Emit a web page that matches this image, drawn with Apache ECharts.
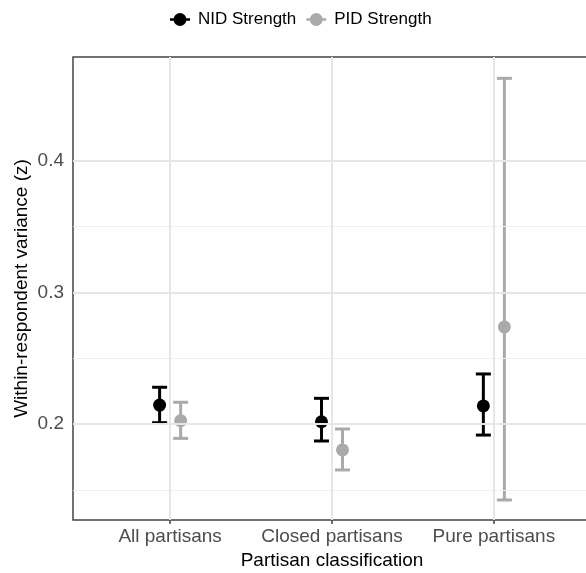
<!DOCTYPE html>
<html><head><meta charset="utf-8">
<script src="https://cdn.jsdelivr.net/npm/echarts@6/dist/echarts.min.js"></script>
<style>html,body{margin:0;padding:0;background:#fff}#c{width:586px;height:573px}</style>
</head><body><div id="c"></div>
<script>
const categories = ['All partisans', 'Closed partisans', 'Pure partisans'];
const nidMean = [0.2144, 0.2017, 0.2137];
const nidLow  = [0.2010, 0.1871, 0.1916];
const nidHigh = [0.2279, 0.2195, 0.2380];
const pidMean = [0.2025, 0.1803, 0.2737];
const pidLow  = [0.1891, 0.1651, 0.1423];
const pidHigh = [0.2165, 0.1962, 0.4625];
const yTicks = [0.2, 0.3, 0.4];
const yMinor = [0.15, 0.25, 0.35];

const DODGE = 0.065;
const BLACK = '#000000', GREY = '#aaaaaa';
const FONT = 'Liberation Sans, Arial, sans-serif';

function errData(low, high, off) {
  return categories.map((c, i) => [i + off, low[i], high[i]]);
}
function ptData(mean, off) {
  return categories.map((c, i) => [i + off, mean[i]]);
}
function errRender(color) {
  return function (params, api) {
    const x = api.value(0);
    const p1 = api.coord([x, api.value(1)]);
    const p2 = api.coord([x, api.value(2)]);
    const hw = 7.5;
    const st = { stroke: color, lineWidth: 3 };
    return { type: 'group', children: [
      { type: 'line', shape: { x1: p1[0], y1: p1[1], x2: p2[0], y2: p2[1] }, style: st },
      { type: 'line', shape: { x1: p1[0] - hw, y1: p1[1], x2: p1[0] + hw, y2: p1[1] }, style: st },
      { type: 'line', shape: { x1: p2[0] - hw, y1: p2[1], x2: p2[0] + hw, y2: p2[1] }, style: st }
    ]};
  };
}

const gridLines = [];
yMinor.forEach(v => gridLines.push({ yAxis: v, lineStyle: { color: '#f0f0f0', width: 1.2, type: 'solid' } }));
yTicks.forEach(v => gridLines.push({ yAxis: v, lineStyle: { color: '#e6e6e6', width: 2, type: 'solid' } }));
categories.forEach((c, i) => gridLines.push({ xAxis: i, lineStyle: { color: '#e6e6e6', width: 2, type: 'solid' } }));

const legendIcon = 'path://M0,5.25 H20 V7.75 H0 Z M16.5,6.5 A6.5,6.5 0 1 1 3.5,6.5 A6.5,6.5 0 1 1 16.5,6.5 Z';

const chart = echarts.init(document.getElementById('c'), null, { renderer: 'canvas' });
chart.setOption({
  animation: false,
  backgroundColor: '#ffffff',
  textStyle: { fontFamily: FONT },
  legend: {
    top: 6, left: 165, itemGap: 10, itemWidth: 20, itemHeight: 13,
    textStyle: { fontSize: 17, color: '#000', fontFamily: FONT, padding: [0, 0, 0, 3] },
    data: [
      { name: 'NID Strength', icon: legendIcon, itemStyle: { color: BLACK } },
      { name: 'PID Strength', icon: legendIcon, itemStyle: { color: GREY } }
    ]
  },
  grid: { left: 73, top: 57, width: 518, height: 463, outerBoundsMode: 'none', containLabel: false,
          show: true, borderColor: '#444', borderWidth: 1.5, backgroundColor: 'transparent' },
  xAxis: {
    type: 'value', min: -0.6, max: 2.6,
    name: 'Partisan classification', nameLocation: 'middle', nameGap: 31, nameMoveOverlap: false,
    nameTextStyle: { fontSize: 19, color: '#000', fontFamily: FONT },
    axisLine: { show: false },
    axisTick: { show: true, customValues: [0, 1, 2], length: 4, lineStyle: { color: '#444', width: 1.5 } },
    axisLabel: { customValues: [0, 1, 2], formatter: v => categories[Math.round(v)] || '', fontSize: 19, color: '#4d4d4d', margin: 7, fontFamily: FONT },
    splitLine: { show: false }
  },
  yAxis: {
    type: 'value', min: 0.1271, max: 0.4787,
    name: 'Within-respondent variance (z)', nameLocation: 'middle', nameGap: 42, nameMoveOverlap: false,
    nameTextStyle: { fontSize: 19, color: '#000', fontFamily: FONT },
    axisLine: { show: false },
    axisTick: { show: true, customValues: yTicks, length: 4, lineStyle: { color: '#444', width: 1.5 } },
    axisLabel: { customValues: yTicks, formatter: v => v.toFixed(1), fontSize: 19, color: '#4d4d4d', margin: 9, fontFamily: FONT },
    splitLine: { show: false }
  },
  series: [
    { type: 'line', name: '_grid', data: [], silent: true, z: 0,
      markLine: { silent: true, symbol: 'none', label: { show: false }, animation: false, data: gridLines } },
    { type: 'custom', name: 'NID Strength', renderItem: errRender(BLACK), data: errData(nidLow, nidHigh, -DODGE), encode: { x: 0, y: [1, 2] }, z: 3, itemStyle: { color: BLACK } },
    { type: 'custom', name: 'PID Strength', renderItem: errRender(GREY), data: errData(pidLow, pidHigh, DODGE), encode: { x: 0, y: [1, 2] }, z: 3, itemStyle: { color: GREY } },
    { type: 'scatter', name: 'NID Strength', data: ptData(nidMean, -DODGE), symbolSize: 13, itemStyle: { color: BLACK, opacity: 1 }, z: 4 },
    { type: 'scatter', name: 'PID Strength', data: ptData(pidMean, DODGE), symbolSize: 13, itemStyle: { color: GREY, opacity: 1 }, z: 4 }
  ]
});
</script></body></html>
